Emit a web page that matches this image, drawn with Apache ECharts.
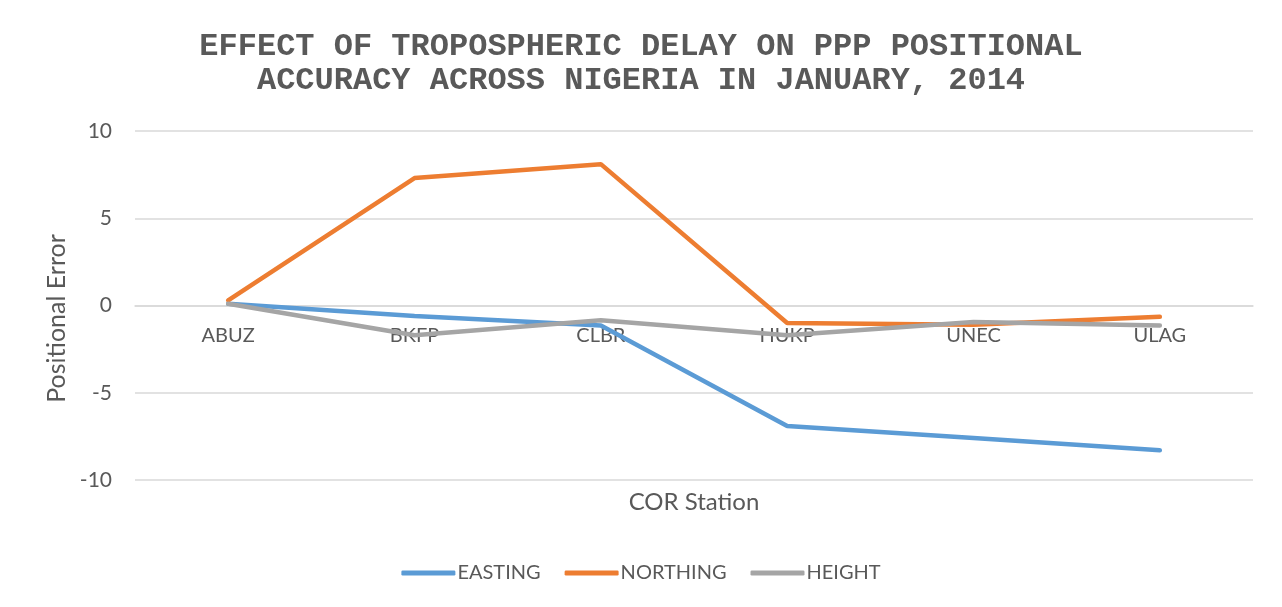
<!DOCTYPE html>
<html>
<head>
<meta charset="utf-8">
<script src="https://cdn.jsdelivr.net/npm/echarts@6/dist/echarts.min.js"></script>
<style>
html, body { margin: 0; padding: 0; background: #fff; }
#main { width: 1282px; height: 607px; }
</style>
</head>
<body>
<div id="main"></div>
<script>
// stations along the x axis
var stations = ['ABUZ', 'BKFP', 'CLBR', 'HUKP', 'UNEC', 'ULAG']
// positional error per station
var easting = [0.1, -0.6, -1.15, -6.9, -7.6, -8.3]
var northing = [0.3, 7.3, 8.1, -1.0, -1.1, -0.65]
var height = [0.1, -1.7, -0.85, -1.7, -0.95, -1.15]
var yTicks = { min: -10, max: 10, interval: 5 }

var textColor = '#595959'
var chart = echarts.init(document.getElementById('main'))

chart.setOption({
  animation: false,
  color: ['#5B9BD5', '#ED7D31', '#A5A5A5'],
  title: {
    text: 'EFFECT OF TROPOSPHERIC DELAY ON PPP POSITIONAL\nACCURACY ACROSS NIGERIA IN JANUARY, 2014',
    left: 'center',
    top: 25,
    textStyle: {
      fontFamily: 'Liberation Mono',
      fontWeight: 'bold',
      fontSize: 32,
      lineHeight: 34,
      color: textColor
    }
  },
  legend: {
    bottom: 19,
    left: 'center',
    icon: 'roundRect',
    itemWidth: 54,
    itemHeight: 5,
    itemGap: 24,
    textStyle: { fontFamily: 'Lato', fontSize: 20, color: textColor, padding: [0, 0, 0, -3] },
    data: ['EASTING', 'NORTHING', 'HEIGHT']
  },
  grid: { left: 135, right: 29, top: 131, bottom: 127, outerBoundsMode: 'none', containLabel: false },
  xAxis: {
    type: 'category',
    data: stations,
    boundaryGap: true,
    // axis sits on y = 0 (plot height 349px, zero is 174px above the bottom)
    offset: -174,
    axisLine: { show: true, onZero: false, lineStyle: { color: '#D9D9D9', width: 1.5 } },
    axisTick: { show: false },
    axisLabel: { color: textColor, fontFamily: 'Lato', fontSize: 20, margin: 20 },
    name: 'COR Station',
    nameLocation: 'middle',
    nameGap: 184,
    nameTextStyle: { color: textColor, fontFamily: 'Lato', fontSize: 24 }
  },
  yAxis: {
    type: 'value',
    min: yTicks.min,
    max: yTicks.max,
    interval: yTicks.interval,
    axisLine: { show: false },
    axisTick: { show: false },
    splitLine: { lineStyle: { color: '#D9D9D9', width: 1.5 } },
    axisLabel: { color: textColor, fontFamily: 'Lato', fontSize: 21, margin: 23 },
    name: 'Positional Error',
    nameLocation: 'middle',
    nameGap: 64,
    nameTextStyle: { color: textColor, fontFamily: 'Lato', fontSize: 25, padding: [0, 26, 0, 0] }
  },
  series: [
    { name: 'EASTING', type: 'line', data: easting, showSymbol: false, lineStyle: { width: 4.5, cap: 'round' } },
    { name: 'NORTHING', type: 'line', data: northing, showSymbol: false, lineStyle: { width: 4.5, cap: 'round' } },
    { name: 'HEIGHT', type: 'line', data: height, showSymbol: false, lineStyle: { width: 4.5, cap: 'round' } }
  ]
})
</script>
</body>
</html>
